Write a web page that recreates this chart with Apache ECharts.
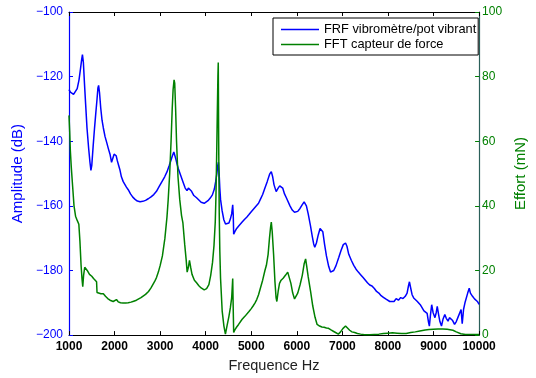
<!DOCTYPE html>
<html>
<head>
<meta charset="utf-8">
<script src="https://cdn.jsdelivr.net/npm/echarts@6/dist/echarts.min.js"></script>
<style>
    html, body { margin: 0; padding: 0; background: #fff; }
    #chart { width: 536px; height: 378px; }
</style>
</head>
<body>
<div id="chart"></div>
<script>
// FRF vibromètre/pot vibrant (dB)
var frfFreq = [1000, 1030, 1060, 1100, 1140, 1180, 1220, 1252, 1280, 1295, 1315, 1338, 1365, 1395, 1430, 1460, 1481, 1500, 1530, 1560,
    1590, 1615, 1635, 1650, 1670, 1697, 1725, 1754, 1790, 1830, 1862, 1900, 1934, 1960, 1990, 2010, 2035, 2060, 2090, 2120,
    2150, 2190, 2220, 2260, 2300, 2350, 2400, 2450, 2500, 2560, 2620, 2680, 2740, 2800, 2860, 2920, 2980, 3040, 3100, 3150,
    3200, 3240, 3270, 3300, 3320, 3345, 3370, 3400, 3450, 3500, 3550, 3590, 3620, 3650, 3690, 3740, 3800, 3850, 3900, 3967,
    4000, 4050, 4100, 4147, 4190, 4218, 4245, 4265, 4280, 4295, 4310, 4326, 4360, 4398, 4435, 4470, 4510, 4541, 4570, 4593,
    4605, 4614, 4640, 4680, 4720, 4757, 4800, 4850, 4900, 4950, 5000, 5040, 5080, 5120, 5160, 5200, 5250, 5300, 5350, 5403,
    5440, 5470, 5500, 5547, 5590, 5625, 5655, 5690, 5730, 5770, 5800, 5850, 5900, 5950, 5978, 6020, 6070, 6120, 6160, 6180,
    6210, 6250, 6300, 6340, 6370, 6394, 6430, 6470, 6510, 6538, 6570, 6610, 6650, 6700, 6740, 6767, 6810, 6860, 6920, 6970,
    7020, 7069, 7100, 7140, 7198, 7250, 7300, 7350, 7400, 7450, 7487, 7550, 7600, 7650, 7702, 7750, 7800, 7850, 7900, 7950,
    7989, 8040, 8080, 8134, 8180, 8230, 8280, 8330, 8380, 8420, 8450, 8472, 8500, 8530, 8565, 8600, 8640, 8680, 8709, 8750,
    8790, 8830, 8860, 8890, 8909, 8935, 8960, 8990, 9032, 9060, 9082, 9110, 9140, 9175, 9210, 9248, 9280, 9319, 9350, 9390,
    9420, 9462, 9500, 9534, 9570, 9605, 9630, 9660, 9690, 9720, 9750, 9784, 9810, 9856, 9900, 9963, 10000];
var frfAmp = [-124.0, -124.8, -125.3, -125.5, -125.0, -123.7, -121.0, -117.6, -114.5, -113.2, -115.5, -121.7, -128.5, -135.9, -142.0, -146.5, -149.0, -147.5, -141.5, -136.0,
    -131.0, -127.0, -123.5, -122.7, -125.0, -129.8, -133.5, -135.9, -138.5, -140.5, -142.2, -144.0, -146.5, -146.0, -144.0, -143.5, -144.5, -146.0, -147.5, -149.0,
    -151.0, -152.5, -153.0, -154.2, -155.0, -156.3, -157.3, -158.0, -158.5, -158.7, -158.6, -158.3, -157.8, -157.2, -156.5, -155.5, -154.0, -152.5, -151.0, -149.5,
    -147.5, -145.8, -144.5, -143.3, -143.8, -145.5, -147.0, -148.5, -150.5, -152.5, -154.5, -155.3, -154.5, -154.2, -155.5, -156.8, -157.5, -158.2, -158.9, -159.2,
    -159.0, -158.4, -157.6, -156.6, -154.8, -152.6, -150.0, -147.5, -146.5, -150.0, -154.5, -158.0, -161.5, -164.3, -165.6, -165.9, -165.3, -164.1, -162.5, -159.7,
    -163.0, -168.8, -168.0, -167.0, -166.3, -165.8, -165.0, -164.2, -163.5, -162.7, -161.8, -161.2, -160.5, -160.0, -159.2, -158.0, -156.5, -154.5, -152.5, -150.2,
    -149.4, -151.0, -153.5, -155.6, -154.5, -153.8, -153.6, -154.5, -156.3, -157.5, -158.1, -160.0, -161.3, -162.0, -162.2, -161.7, -160.8, -159.6, -158.8, -158.6,
    -160.0, -162.5, -166.2, -169.5, -171.8, -172.8, -171.5, -169.0, -167.0, -166.7, -168.0, -172.0, -175.5, -178.8, -180.5, -180.9, -180.0, -178.5, -176.0, -173.8,
    -172.0, -171.5, -172.5, -175.0, -176.9, -178.4, -179.6, -180.5, -181.3, -182.1, -182.7, -183.8, -184.5, -184.8, -185.6, -186.5, -187.0, -187.8, -188.3, -188.8,
    -189.2, -189.6, -189.0, -189.6, -188.7, -189.2, -188.4, -188.7, -188.0, -187.0, -184.8, -183.5, -185.5, -187.5, -188.5, -188.0, -189.5, -190.0, -190.6, -191.0,
    -192.5, -192.0, -193.3, -196.0, -197.2, -193.5, -190.6, -193.0, -194.6, -193.0, -191.1, -193.5, -195.8, -197.2, -195.0, -193.6, -194.8, -195.7, -194.6, -194.1,
    -195.5, -196.7, -195.8, -194.6, -195.0, -192.1, -196.5, -192.0, -190.0, -189.5, -187.0, -185.5, -187.0, -188.0, -188.8, -189.6, -190.5];

// FFT capteur de force (mN)
var fftFreq = [1000, 1015, 1030, 1050, 1080, 1110, 1144, 1180, 1216, 1240, 1265, 1285, 1302, 1320, 1345, 1360, 1400, 1450, 1500, 1539,
    1580, 1605, 1615, 1650, 1700, 1754, 1800, 1850, 1900, 1940, 1970, 2000, 2041, 2080, 2130, 2185, 2243, 2300, 2360, 2420,
    2480, 2530, 2580, 2616, 2680, 2745, 2800, 2832, 2880, 2920, 2961, 3000, 3050, 3105, 3150, 3177, 3210, 3240, 3265, 3285,
    3306, 3320, 3340, 3360, 3392, 3430, 3470, 3500, 3540, 3570, 3593, 3620, 3644, 3670, 3700, 3752, 3800, 3850, 3900, 3967,
    4020, 4070, 4110, 4150, 4182, 4210, 4225, 4240, 4254, 4268, 4276, 4285, 4297, 4310, 4326, 4362, 4400, 4433, 4470, 4510,
    4541, 4570, 4593, 4603, 4614, 4640, 4680, 4722, 4800, 4860, 4901, 4950, 5000, 5040, 5080, 5120, 5160, 5200, 5250, 5300,
    5332, 5370, 5400, 5425, 5440, 5460, 5490, 5520, 5545, 5562, 5590, 5620, 5655, 5700, 5750, 5800, 5830, 5870, 5910, 5950,
    5980, 6020, 6070, 6120, 6160, 6193, 6215, 6250, 6302, 6350, 6400, 6445, 6500, 6550, 6600, 6650, 6696, 6750, 6800, 6850,
    6911, 6960, 7010, 7040, 7069, 7110, 7160, 7210, 7270, 7330, 7400, 7487, 7600, 7700, 7800, 7900, 8000, 8100, 8200, 8300,
    8400, 8500, 8600, 8700, 8816, 8900, 8995, 9100, 9200, 9300, 9426, 9500, 9534, 9600, 9700, 9800, 9900, 10000];
var fftForce = [68, 63, 57, 52, 46, 40, 36.8, 35.5, 34.3, 29.0, 21.6, 17.5, 15.0, 18.5, 21.0, 21.0, 20.0, 18.8, 18.2, 17.5,
    17.0, 16.5, 13.2, 13.0, 12.8, 12.8, 12.0, 11.3, 10.8, 10.5, 10.4, 10.6, 11.0, 10.3, 10.0, 9.9, 9.9, 10.0, 10.2, 10.5,
    10.8, 11.2, 11.6, 11.8, 12.6, 13.5, 14.6, 15.2, 16.6, 17.8, 19.5, 21.5, 24.5, 30.0, 36.5, 41.9, 50.0, 60.0, 70.0, 76.0,
    79.0, 78.0, 70.0, 60.0, 49.0, 42.0, 37.0, 34.7, 28.0, 23.5, 19.5, 21.0, 23.1, 21.0, 18.8, 17.0, 16.2, 15.3, 14.6, 14.0,
    14.4, 15.6, 18.5, 22.5, 27.7, 35.0, 42.9, 55.0, 68.0, 80.0, 84.4, 60.0, 37.8, 26.0, 17.6, 7.4, 2.8, 0.3, 3.0, 5.8,
    8.4, 11.5, 17.5, 9.0, 0.8, 1.6, 2.5, 3.3, 4.9, 5.8, 6.4, 7.3, 8.2, 9.0, 9.9, 11.0, 12.5, 14.5, 17.0, 20.0,
    21.6, 25.0, 30.0, 33.5, 35.0, 32.0, 25.0, 16.5, 11.5, 10.4, 13.5, 16.0, 17.0, 17.6, 18.5, 19.5, 19.0, 16.0, 13.0, 11.2,
    11.5, 13.0, 15.5, 18.5, 22.0, 23.6, 21.5, 18.0, 13.5, 9.0, 5.5, 3.3, 2.8, 2.5, 2.4, 2.2, 2.1, 1.6, 1.2, 0.8,
    0.3, 1.0, 2.0, 2.6, 2.8, 2.2, 1.5, 1.0, 0.8, 0.5, 0.3, 0.1, 0.1, 0.2, 0.3, 0.5, 0.6, 0.7, 0.6, 0.5,
    0.5, 0.8, 1.0, 1.3, 1.6, 1.7, 1.8, 1.9, 1.9, 1.8, 1.5, 1.0, 0.8, 0.4, 0.2, 0.2, 0.2, 0.2];

var xTicks = [1000, 10000, 1000];   // min, max, interval
var ampTicks = [-200, -100, 20];
var forceTicks = [0, 100, 20];

function pairs(xs, ys) {
    var out = [];
    for (var i = 0; i < xs.length; i++) {
        out.push([xs[i], ys[i]]);
    }
    return out;
}

var font = '"Liberation Sans", Arial, Helvetica, sans-serif';
var blue = '#0000ff';
var green = '#008000';

var myChart = echarts.init(document.getElementById('chart'), null, {renderer: 'canvas'});
var option = {
    animation: false,
    backgroundColor: '#ffffff',
    textStyle: {fontFamily: font},
    grid: {left: 69, right: 49, top: 12, bottom: 37},
    legend: {
        orient: 'vertical',
        left: 273,
        top: 18,
        padding: [4, 2, 3, 8],
        itemGap: 0,
        itemWidth: 38,
        itemHeight: 1.3,
        icon: 'rect',
        borderColor: '#000000',
        borderWidth: 1,
        borderRadius: 0,
        backgroundColor: '#ffffff',
        textStyle: {fontFamily: font, fontSize: 12.8, lineHeight: 15, color: '#000000'},
        data: ['FRF vibromètre/pot vibrant', 'FFT capteur de force']
    },
    xAxis: [
        {
            type: 'value',
            min: xTicks[0],
            max: xTicks[1],
            interval: xTicks[2],
            name: 'Frequence Hz',
            nameLocation: 'middle',
            nameGap: 19,
            nameTextStyle: {fontFamily: font, fontSize: 14.5, color: '#222222'},
            axisLine: {show: true, lineStyle: {color: '#000000', width: 1}},
            axisTick: {show: true, inside: true, length: 4, lineStyle: {color: '#000000'}},
            axisLabel: {
                fontFamily: font, fontSize: 12, fontWeight: 'bold', color: '#000000', margin: 6,
                formatter: function (v) { return String(v); }
            },
            splitLine: {show: false}
        },
        {
            type: 'value',
            position: 'top',
            min: xTicks[0],
            max: xTicks[1],
            interval: xTicks[2],
            axisLine: {show: true, lineStyle: {color: '#000000', width: 1}},
            axisTick: {show: true, inside: true, length: 4, lineStyle: {color: '#000000'}},
            axisLabel: {show: false},
            splitLine: {show: false}
        }
    ],
    yAxis: [
        {
            type: 'value',
            position: 'left',
            min: ampTicks[0],
            max: ampTicks[1],
            interval: ampTicks[2],
            name: 'Amplitude (dB)',
            nameLocation: 'middle',
            nameGap: 31,
            nameTextStyle: {fontFamily: font, fontSize: 15, color: blue},
            axisLine: {show: true, lineStyle: {color: blue, width: 1.2}},
            axisTick: {show: true, inside: true, length: 4, lineStyle: {color: blue}},
            axisLabel: {
                fontFamily: font, fontSize: 12, color: blue, margin: 6,
                formatter: function (v) { return v < 0 ? '\u2212' + Math.abs(v) : String(v); }
            },
            splitLine: {show: false}
        },
        {
            type: 'value',
            position: 'right',
            min: forceTicks[0],
            max: forceTicks[1],
            interval: forceTicks[2],
            name: 'Effort (mN)',
            nameLocation: 'middle',
            nameGap: 27,
            nameRotate: 90,
            nameTextStyle: {fontFamily: font, fontSize: 15, color: green},
            axisLine: {show: true, lineStyle: {color: '#2b5f5a', width: 1.2}},
            axisTick: {show: true, inside: true, length: 4, lineStyle: {color: green}},
            axisLabel: {fontFamily: font, fontSize: 12, color: green, margin: 3},
            splitLine: {show: false}
        }
    ],
    series: [
        {
            name: 'FRF vibromètre/pot vibrant',
            type: 'line',
            xAxisIndex: 0,
            yAxisIndex: 0,
            symbol: 'none',
            color: blue,
            lineStyle: {color: blue, width: 1.5},
            data: pairs(frfFreq, frfAmp)
        },
        {
            name: 'FFT capteur de force',
            type: 'line',
            xAxisIndex: 0,
            yAxisIndex: 1,
            symbol: 'none',
            color: green,
            lineStyle: {color: green, width: 1.5},
            data: pairs(fftFreq, fftForce)
        }
    ]
};

myChart.setOption(option);
window.onresize = myChart.resize;
</script>
</body>
</html>
